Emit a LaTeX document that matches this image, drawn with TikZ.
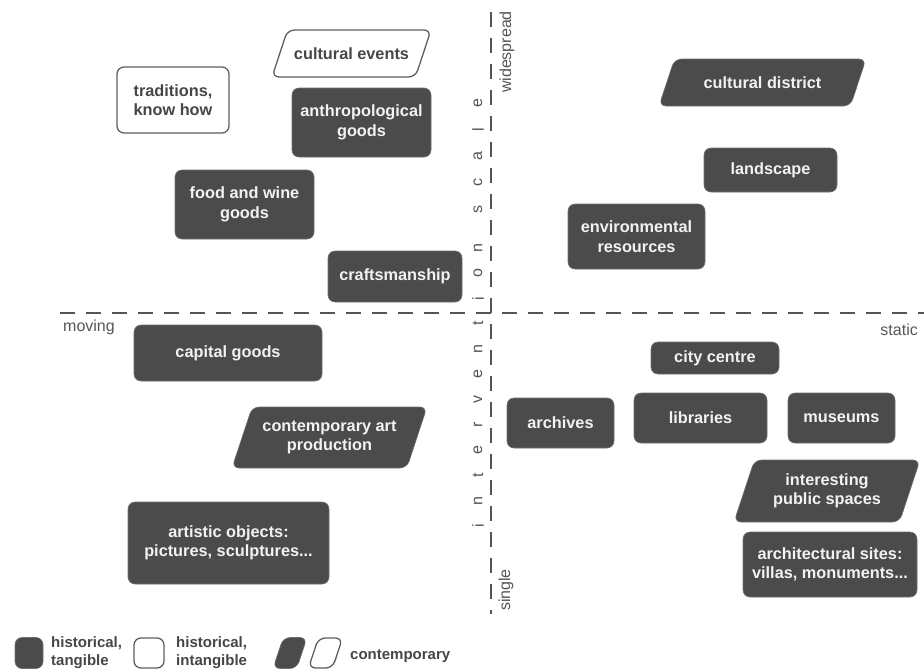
\documentclass[tikz,border=0pt]{standalone}
\usepackage{fontspec}
\setmainfont{Liberation Sans}
\definecolor{boxdark}{RGB}{75,75,75}
\definecolor{boxedge}{RGB}{95,95,95}
\definecolor{axisgray}{RGB}{85,85,85}
\definecolor{labelgray}{RGB}{70,70,70}
\definecolor{boxtext}{RGB}{242,242,242}
\newcommand{\boxfont}{\fontsize{16.3}{19.5}\selectfont\bfseries}
\newcommand{\legfont}{\fontsize{15}{18}\selectfont\bfseries}
\newcommand{\axfont}{\fontsize{16}{18}\selectfont}
% slanted box: style, name, centre x, centre y, width, height, text
\newcommand{\slantbox}[7]{%
  \path[#1] ({#3-#5/2},{#4+#6/2}) -- ({#3+#5/2-0.33*#6},{#4+#6/2})
    -- ({#3+#5/2},{#4-#6/2}) -- ({#3-#5/2+0.33*#6},{#4-#6/2}) -- cycle;
  \node[#1, draw=none, fill=none] (#2) at (#3,#4) {#7};}
\tikzset{
  goodsbox/.style={rounded corners=7pt, align=center, inner sep=0pt, font=\boxfont},
  tangible/.style={goodsbox, fill=boxdark, draw=boxdark!80!white, line width=0.6pt, text=boxtext},
  intangible/.style={goodsbox, fill=white, draw=boxedge, line width=1.3pt, text=labelgray},
  axisline/.style={draw=axisgray, line width=1.3pt, dash pattern=on 15pt off 11pt},
  axislabel/.style={text=axisgray, font=\axfont, inner sep=0pt},
  legtext/.style={anchor=west, align=left, inner sep=0pt, text=labelgray, font=\legfont},
}
\begin{document}
\begin{tikzpicture}[x=1pt,y=-1pt]
\useasboundingbox (0,0) rectangle (924,670);

%Axes
\coordinate (xleft) at (60,313);
\coordinate (xright) at (924,313);
\coordinate (ytop) at (491,12);
\coordinate (ybottom) at (491,614);
\draw[axisline] (xleft) -- (xright);
\draw[axisline] (ytop) -- (ybottom);

% Axis labels
\node[axislabel, anchor=west] (moving) at (63,327) {moving};
\node[axislabel, anchor=east] (static) at (918,330) {static};
\node[axislabel, rotate=90] (widespread) at (507,52) {widespread};
\node[axislabel, rotate=90] (single) at (506,590) {single};
\foreach \ch [count=\i from 0] in {i,n,t,e,r,v,e,n,t,i,o,n}
  \node[axislabel, rotate=90] (scaleA\i) at (478,{526-25.3*\i}) {\ch};
\foreach \ch [count=\i from 0] in {s,c,a,l,e}
  \node[axislabel, rotate=90] (scaleB\i) at (478,{209-26.5*\i}) {\ch};

%Upper left: moving, widespread
\slantbox{intangible}{events}{351.5}{53.5}{159}{47}{cultural events}
\node[intangible, minimum width=112pt, minimum height=66pt] (traditions) at (173,100) {traditions,\\know how};
\node[tangible, minimum width=139pt, minimum height=69pt] (anthropo) at (361.5,122.5) {anthropological\\goods};
\node[tangible, minimum width=139pt, minimum height=69pt] (foodwine) at (244.5,204.5) {food and wine\\goods};
\node[tangible, minimum width=134pt, minimum height=51pt] (crafts) at (395,276.5) {craftsmanship};

%Upper right: static, widespread
\slantbox{tangible}{district}{762.5}{82.5}{207}{47}{cultural district}
\node[tangible, minimum width=133pt, minimum height=44pt] (landscape) at (770.5,170) {landscape};
\node[tangible, minimum width=137pt, minimum height=65pt] (environ) at (636.5,236.5) {environmental\\resources};

%Lower left: moving, single
\node[tangible, minimum width=188pt, minimum height=56pt] (capital) at (228,353) {capital goods};
\slantbox{tangible}{artprod}{329.5}{437.5}{195}{61}{contemporary art\\production}
\node[tangible, minimum width=201pt, minimum height=82pt] (artobjects) at (228.5,543) {artistic objects:\\pictures, sculptures...};

%Lower right: static, single
\node[tangible, minimum width=128pt, minimum height=32pt] (citycentre) at (715,358) {city centre};
\node[tangible, minimum width=107pt, minimum height=50pt] (archives) at (560.5,423) {archives};
\node[tangible, minimum width=133pt, minimum height=50pt] (libraries) at (700.5,418) {libraries};
\node[tangible, minimum width=107pt, minimum height=50pt] (museums) at (841.5,418) {museums};
\slantbox{tangible}{publicsp}{827}{491}{186}{62}{interesting\\public spaces}
\node[tangible, minimum width=174pt, minimum height=65pt] (archsites) at (830,564.5) {architectural sites:\\villas, monuments...};

%Legend
\node[tangible, minimum width=28pt, minimum height=31pt] (legtang) at (29,653) {};
\node[legtext] (legtangtxt) at (51,653) {historical,\\tangible};
\node[intangible, minimum width=30pt, minimum height=30pt] (legintang) at (149,653) {};
\node[legtext] (legintangtxt) at (176,653) {historical,\\intangible};
\slantbox{tangible}{legcontA}{290}{653}{34}{31}{}
\slantbox{intangible}{legcontB}{325.5}{653}{34}{30}{}
\node[legtext] (legconttxt) at (350,656) {contemporary};

\end{tikzpicture}
\end{document}
